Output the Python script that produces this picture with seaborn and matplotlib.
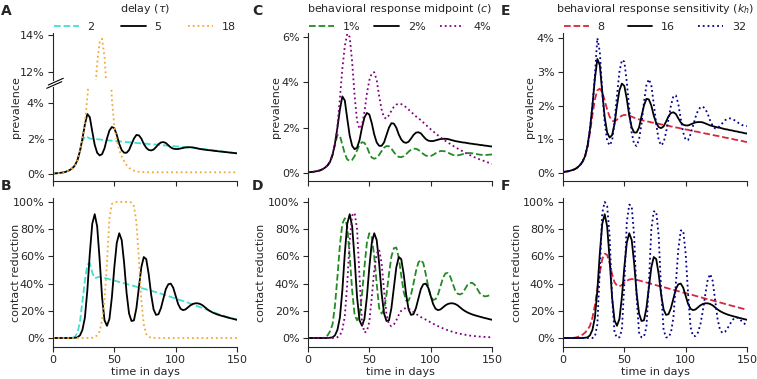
import numpy as np
import pandas as pd
import matplotlib.pyplot as plt
from matplotlib.lines import Line2D
from matplotlib.ticker import FuncFormatter
import seaborn as sns

sns.set_style("ticks")
plt.rcParams['font.family'] = ['DejaVu Sans']
plt.rcParams['font.size'] = 8

# time axis (days), values read every 2 days
days = np.arange(0, 151, 2)

# baseline run (tau=5, c=2%, k_h=16), shared by all panels
prev_base = [0.03, 0.04, 0.05, 0.07, 0.09, 0.12, 0.17, 0.24, 0.34, 0.5,
             0.8, 1.3, 2.0, 2.8, 3.38, 3.2, 2.4, 1.65, 1.2, 1.05,
             1.12, 1.45, 2.0, 2.45, 2.65, 2.58, 2.2, 1.7, 1.35, 1.2,
             1.2, 1.35, 1.68, 2.0, 2.2, 2.18, 2.0, 1.7, 1.48, 1.36,
             1.33, 1.38, 1.52, 1.68, 1.78, 1.8, 1.75, 1.62, 1.5, 1.43,
             1.41, 1.41, 1.44, 1.47, 1.5, 1.51, 1.51, 1.5, 1.47, 1.44,
             1.41, 1.39, 1.37, 1.35, 1.34, 1.32, 1.3, 1.29, 1.27, 1.26,
             1.24, 1.23, 1.21, 1.2, 1.18, 1.17]
contact_base = [0, 0, 0, 0, 0, 0, 0, 0, 0, 0.2,
                0.5, 2, 6, 15, 35, 62, 84, 91, 82, 58,
                30, 13, 9, 14, 30, 52, 70, 77, 72, 55,
                33, 18, 12.5, 13, 22, 37, 52, 59.5, 58, 47,
                32, 21, 17, 17.5, 22, 29, 36, 39.5, 40, 37,
                31, 25, 21.5, 20.5, 21, 22.5, 24, 25, 25.5, 25.5,
                25, 24, 22.5, 21, 19.8, 18.8, 18, 17.3, 16.7, 16.2,
                15.7, 15.2, 14.7, 14.3, 13.8, 13.4]

# delay tau = 2 and tau = 18
prev_tau2 = [0.03, 0.04, 0.05, 0.07, 0.09, 0.12, 0.17, 0.24, 0.34, 0.5,
             0.8, 1.28, 1.85, 2.12, 2.08, 2.0, 1.98, 1.97, 1.96, 1.95,
             1.93, 1.92, 1.91, 1.89, 1.88, 1.86, 1.85, 1.84, 1.83, 1.81,
             1.8, 1.79, 1.78, 1.77, 1.75, 1.74, 1.73, 1.72, 1.71, 1.69,
             1.68, 1.67, 1.66, 1.65, 1.63, 1.62, 1.61, 1.6, 1.58, 1.57,
             1.56, 1.55, 1.54, 1.53, 1.51, 1.5, 1.49, 1.48, 1.46, 1.44,
             1.43, 1.41, 1.4, 1.38, 1.36, 1.35, 1.33, 1.31, 1.29, 1.27,
             1.26, 1.24, 1.22, 1.2, 1.18, 1.17]
contact_tau2 = [0, 0, 0, 0, 0, 0, 0, 0, 0.3, 1,
                4, 12, 27, 42, 54, 55, 48, 44, 44.5, 45,
                44.6, 44.2, 43.7, 43.2, 42.7, 42.2, 41.7, 41.2, 40.7, 40.2,
                39.7, 39.2, 38.7, 38.2, 37.7, 37.2, 36.7, 36.2, 35.7, 35.2,
                34.7, 34.2, 33.7, 33.2, 32.6, 32.0, 31.4, 30.8, 30.2, 29.6,
                29.0, 28.4, 27.8, 27.2, 26.6, 26.0, 25.3, 24.6, 23.9, 23.3,
                22.7, 22.0, 21.3, 20.6, 19.9, 19.2, 18.5, 17.9, 17.3, 16.7,
                16.1, 15.5, 14.9, 14.4, 13.9, 13.4]
prev_tau18 = [0.03, 0.04, 0.05, 0.07, 0.09, 0.12, 0.17, 0.24, 0.34, 0.5,
              0.8, 1.3, 2.0, 2.9, 4.3, 6.0, 8.2, 10.6, 12.5, 13.6,
              13.8, 12.8, 10.8, 7.2, 4.2, 2.7, 1.9, 1.35, 1.0, 0.72,
              0.5, 0.35, 0.25, 0.19, 0.15, 0.13, 0.12, 0.11, 0.1, 0.1,
              0.1, 0.1, 0.1, 0.1, 0.1, 0.1, 0.1, 0.1, 0.1, 0.1,
              0.1, 0.1, 0.1, 0.1, 0.1, 0.1, 0.1, 0.1, 0.1, 0.1,
              0.1, 0.1, 0.1, 0.1, 0.1, 0.1, 0.1, 0.1, 0.1, 0.1,
              0.1, 0.1, 0.1, 0.1, 0.1, 0.1]
contact_tau18 = [0, 0, 0, 0, 0, 0, 0, 0, 0, 0,
                 0, 0, 0, 0, 0, 0, 0.2, 0.6, 2, 5,
                 13, 28, 55, 88, 98.5, 99.6, 100, 100, 100, 100,
                 100, 100, 99.5, 97, 85, 58, 28, 10, 3, 0.8,
                 0.3, 0.1, 0, 0, 0, 0, 0, 0, 0, 0,
                 0, 0, 0, 0, 0, 0, 0, 0, 0, 0,
                 0, 0, 0, 0, 0, 0, 0, 0, 0, 0,
                 0, 0, 0, 0, 0, 0]

# response midpoint c = 1% and c = 4%
prev_c1 = [0.03, 0.04, 0.05, 0.07, 0.09, 0.12, 0.17, 0.24, 0.34, 0.5,
           0.8, 1.25, 1.68, 1.65, 1.25, 0.85, 0.6, 0.53, 0.58, 0.75,
           1.0, 1.25, 1.36, 1.33, 1.15, 0.88, 0.68, 0.63, 0.67, 0.8,
           0.97, 1.12, 1.19, 1.18, 1.08, 0.92, 0.79, 0.71, 0.7, 0.74,
           0.83, 0.94, 1.03, 1.07, 1.07, 1.02, 0.93, 0.84, 0.77, 0.74,
           0.75, 0.8, 0.87, 0.93, 0.97, 0.97, 0.95, 0.9, 0.85, 0.8,
           0.78, 0.78, 0.8, 0.83, 0.86, 0.88, 0.88, 0.87, 0.85, 0.83,
           0.81, 0.8, 0.8, 0.8, 0.81, 0.82]
contact_c1 = [0, 0, 0, 0, 0, 0, 0, 0.5, 2, 5,
              10, 24, 45, 68, 84, 88, 82, 60, 35, 17,
              13, 17, 32, 52, 70, 77, 74, 60, 40, 22,
              18, 21, 32, 47, 60, 66, 66.5, 59, 46, 34,
              27.5, 27.5, 32, 40, 49, 55.5, 57.5, 55, 47, 38,
              31, 28, 28.5, 32, 38, 44, 47.5, 47.8, 45, 40,
              35, 32.5, 32, 33, 36, 39, 40.5, 40.5, 39, 36,
              33, 31.5, 30.6, 30.8, 31.5, 32]
prev_c4 = [0.03, 0.04, 0.05, 0.07, 0.09, 0.12, 0.17, 0.24, 0.34, 0.5,
           0.8, 1.3, 2.1, 3.3, 4.6, 5.6, 6.15, 6.0, 4.9, 3.4,
           2.3, 1.95, 2.1, 2.7, 3.5, 4.1, 4.4, 4.45, 4.1, 3.4,
           2.8, 2.45, 2.4, 2.55, 2.75, 2.92, 3.02, 3.06, 3.04, 2.98,
           2.9, 2.8, 2.7, 2.6, 2.5, 2.42, 2.33, 2.23, 2.13, 2.03,
           1.93, 1.84, 1.75, 1.66, 1.57, 1.49, 1.42, 1.35, 1.28, 1.21,
           1.14, 1.08, 1.02, 0.96, 0.9, 0.84, 0.79, 0.74, 0.69, 0.64,
           0.6, 0.56, 0.52, 0.48, 0.44, 0.4]
contact_c4 = [0, 0, 0, 0, 0, 0, 0, 0, 0, 0,
              0, 0.2, 0.6, 2, 6, 16, 40, 72, 90, 92,
              80, 45, 12, 4, 5, 12, 30, 50, 62, 65,
              55, 35, 17, 10, 8.6, 10, 13, 17, 20, 21.5,
              22, 21.5, 20.5, 19, 17.8, 16.5, 15.4, 14.5, 13.5, 12.5,
              11.5, 10.5, 9.6, 8.7, 7.9, 7.1, 6.4, 5.7, 5.1, 4.5,
              4.0, 3.5, 3.1, 2.7, 2.4, 2.1, 1.8, 1.6, 1.4, 1.2,
              1.05, 0.9, 0.8, 0.7, 0.6, 0.5]

# response sensitivity k_h = 8 and k_h = 32
prev_k8 = [0.03, 0.04, 0.05, 0.07, 0.09, 0.12, 0.17, 0.24, 0.34, 0.5,
           0.78, 1.2, 1.72, 2.18, 2.45, 2.5, 2.4, 2.15, 1.88, 1.67,
           1.55, 1.53, 1.58, 1.65, 1.7, 1.72, 1.72, 1.7, 1.67, 1.64,
           1.61, 1.59, 1.57, 1.55, 1.53, 1.52, 1.5, 1.49, 1.47, 1.46,
           1.44, 1.43, 1.41, 1.4, 1.38, 1.37, 1.35, 1.34, 1.32, 1.31,
           1.29, 1.28, 1.26, 1.25, 1.23, 1.22, 1.2, 1.19, 1.17, 1.16,
           1.14, 1.13, 1.11, 1.1, 1.08, 1.07, 1.05, 1.04, 1.02, 1.01,
           0.99, 0.98, 0.96, 0.95, 0.93, 0.92]
contact_k8 = [0, 0, 0, 0, 0.1, 0.3, 0.8, 1.5, 2.5, 4,
              6, 9, 15, 24, 36, 48, 58, 62, 61, 55,
              47, 41, 38.5, 38, 39, 40.5, 42, 43, 43.3, 43.2,
              42.8, 42.3, 41.8, 41.3, 40.8, 40.3, 39.8, 39.3, 38.8, 38.3,
              37.9, 37.4, 36.9, 36.4, 35.9, 35.4, 34.9, 34.4, 33.9, 33.4,
              33.0, 32.5, 32.0, 31.5, 31.0, 30.5, 30.0, 29.5, 29.0, 28.5,
              28.1, 27.6, 27.1, 26.6, 26.1, 25.6, 25.1, 24.6, 24.1, 23.6,
              23.2, 22.7, 22.2, 21.7, 21.2, 20.8]
prev_k32 = [0.03, 0.04, 0.05, 0.07, 0.09, 0.12, 0.17, 0.24, 0.34, 0.5,
            0.8, 1.3, 2.0, 2.9, 4.0, 3.6, 2.4, 1.5, 0.95, 0.82,
            0.95, 1.5, 2.3, 3.0, 3.35, 3.3, 2.7, 1.9, 1.2, 0.85,
            0.8, 1.0, 1.45, 2.1, 2.6, 2.78, 2.6, 2.05, 1.45, 0.98,
            0.82, 0.9, 1.2, 1.6, 2.0, 2.28, 2.3, 2.05, 1.6, 1.2,
            0.98, 0.98, 1.15, 1.4, 1.65, 1.85, 1.95, 1.97, 1.9, 1.75,
            1.55, 1.4, 1.32, 1.33, 1.4, 1.48, 1.56, 1.61, 1.62, 1.6,
            1.56, 1.51, 1.46, 1.42, 1.4, 1.39]
contact_k32 = [0, 0, 0, 0, 0, 0, 0, 0, 0, 0,
               0, 0, 0, 1, 10, 50, 92, 100, 97, 75,
               30, 4, 0.3, 0.5, 6, 40, 85, 98, 97, 75,
               30, 4, 0.5, 1, 8, 40, 80, 93, 93, 75,
               35, 6, 0.5, 0.5, 4, 15, 40, 65, 79, 79,
               62, 32, 8, 1.5, 1.5, 4, 10, 20, 32, 43,
               47, 42, 28, 14, 6, 3.7, 4.5, 7, 10, 13,
               15, 15, 14, 12, 10.5, 9]

# legend labels
tau_labels = ['2', '5', '18']
c_labels = ['1%', '2%', '4%']
k_labels = ['8', '16', '32']

W, H = 757, 379
fig = plt.figure(figsize=(W / 100, H / 100), dpi=100)


def px_axes(x0, x1, y_top, y_bot):
    return fig.add_axes([x0 / W, 1 - y_bot / H, (x1 - x0) / W, (y_bot - y_top) / H])


pct = FuncFormatter(lambda v, _: f'{v:.0f}%')


def draw(ax, series, labels, styles):
    for vals, lab, (col, ls) in zip(series, labels, styles):
        sns.lineplot(x=days, y=vals, ax=ax, color=col, linestyle=ls, lw=1.3,
                     label=lab, legend=False)
    ax.set_xlim(0, 150)
    ax.set_xticks([0, 50, 100, 150])
    ax.yaxis.set_major_formatter(pct)
    ax.tick_params(labelsize=8, length=3.5, width=0.8, pad=2.5)
    for s in ax.spines.values():
        s.set_linewidth(0.8)
    sns.despine(ax=ax)
    ax.set_xlabel('')
    ax.set_ylabel('')


def add_legend(ax, title):
    ax.legend(title=title, ncol=3, loc='lower left', bbox_to_anchor=(0, 1, 1, 0.1),
              mode='expand', frameon=False, borderaxespad=0, borderpad=0.1,
              handlelength=2.2, fontsize=8, title_fontsize=8)


def ylab(ax, text, x_center_px, x0_px):
    ax.set_ylabel(text, fontsize=8)
    ax.yaxis.set_label_coords((x_center_px + 5.5 - x0_px) / 184, 0.5)


sty_tau = [('#40e0d0', '--'), ('black', '-'), ('#f2a93b', ':')]
sty_c = [('forestgreen', '--'), ('black', '-'), ('purple', ':')]
sty_k = [('#d7263d', '--'), ('black', '-'), ('darkblue', ':')]

cols = [(53, 237), (308, 492), (563, 747)]

# ---- panel A (broken y axis) ----
axA_lo = px_axes(*cols[0], 87, 181)
axA_hi = px_axes(*cols[0], 33, 80)
for ax in (axA_lo, axA_hi):
    draw(ax, [prev_tau2, prev_base, prev_tau18], tau_labels, sty_tau)
axA_lo.set_ylim(-0.39, 4.9)
axA_lo.set_yticks([0, 2, 4])
axA_lo.tick_params(labelbottom=False)
axA_hi.set_ylim(11.57, 14.11)
axA_hi.set_yticks([12, 14])
axA_hi.spines['bottom'].set_visible(False)
axA_hi.tick_params(bottom=False, labelbottom=False)
axA_lo.set_ylabel('prevalence', fontsize=8)
axA_lo.yaxis.set_label_coords((15 + 5.5 - 53) / 184, (181 - 107) / 94)
add_legend(axA_hi, r'delay ($\tau$)')
for (xa, ya, xb, yb) in [(46.7, 88.3, 61.7, 81.7), (48.3, 85.0, 63.3, 78.3)]:
    fig.add_artist(Line2D([xa / W, xb / W], [1 - ya / H, 1 - yb / H],
                          color='black', lw=0.8, transform=fig.transFigure))

# ---- panels C and E ----
axC = px_axes(*cols[1], 33, 181)
draw(axC, [prev_c1, prev_base, prev_c4], c_labels, sty_c)
axC.set_ylim(-0.353, 6.18)
axC.set_yticks([0, 2, 4, 6])
axC.tick_params(labelbottom=False)
ylab(axC, 'prevalence', 275, 308)
add_legend(axC, r'behavioral response midpoint ($c$)')

axE = px_axes(*cols[2], 33, 181)
draw(axE, [prev_k8, prev_base, prev_k32], k_labels, sty_k)
axE.set_ylim(-0.237, 4.15)
axE.set_yticks([0, 1, 2, 3, 4])
axE.tick_params(labelbottom=False)
ylab(axE, 'prevalence', 529, 563)
add_legend(axE, r'behavioral response sensitivity ($k_h$)')

# ---- bottom row: contact reduction ----
bottom = [([contact_tau2, contact_base, contact_tau18], tau_labels, sty_tau, 15),
          ([contact_c1, contact_base, contact_c4], c_labels, sty_c, 260),
          ([contact_k8, contact_base, contact_k32], k_labels, sty_k, 516)]
for (x0, x1), (series, labs, sty, lab_x) in zip(cols, bottom):
    ax = px_axes(x0, x1, 198, 347)
    draw(ax, series, labs, sty)
    ax.set_ylim(-6.6, 102.9)
    ax.set_yticks([0, 20, 40, 60, 80, 100])
    ylab(ax, 'contact reduction', lab_x, x0)
    ax.set_xlabel('time in days', fontsize=8, labelpad=1.5)

# panel letters
for letter, x, y in [('A', 1, 4), ('B', 1, 179), ('C', 252, 4),
                     ('D', 252, 179), ('E', 501, 4), ('F', 501, 179)]:
    fig.text(x / W, 1 - y / H, letter, fontsize=10, fontweight='bold',
             ha='left', va='top')

fig.savefig('out.png', dpi=100)
